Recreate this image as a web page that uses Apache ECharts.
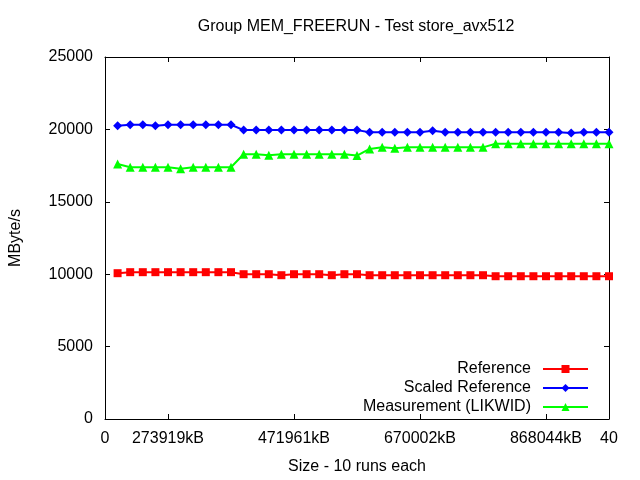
<!DOCTYPE html>
<html>
<head>
<meta charset="utf-8">
<script src="https://cdn.jsdelivr.net/npm/echarts@6/dist/echarts.min.js"></script>
<style>html,body{margin:0;padding:0;background:#fff}#c{width:640px;height:480px}</style>
</head>
<body>
<div id="c"></div>
<script>
const xIndex = [1,2,3,4,5,6,7,8,9,10,11,12,13,14,15,16,17,18,19,20,21,22,23,24,25,26,27,28,29,30,31,32,33,34,35,36,37,38,39,40];
const xTickPositions = [0, 5, 15, 25, 35, 40];
const xTickLabels = ['0', '273919kB', '471961kB', '670002kB', '868044kB', '40'];
const xTickMarks = [5, 15, 25, 35];
const reference = [10070,10140,10140,10140,10140,10140,10140,10140,10140,10140,10000,10000,10000,9930,10000,10000,10000,9930,10000,10000,9930,9930,9930,9930,9930,9930,9930,9930,9930,9930,9860,9860,9860,9860,9860,9860,9860,9860,9860,9860];
const scaledReference = [20250,20320,20320,20250,20320,20320,20320,20320,20320,20320,19950,19950,19950,19950,19950,19950,19950,19950,19950,19950,19810,19810,19810,19810,19810,19900,19810,19810,19810,19810,19810,19810,19810,19810,19810,19810,19745,19810,19810,19810];
const measurement = [17610,17385,17385,17385,17385,17290,17385,17385,17385,17385,18280,18280,18210,18280,18280,18280,18280,18280,18280,18190,18650,18760,18690,18760,18760,18760,18760,18760,18760,18760,19010,19010,19010,19010,19010,19010,19010,19010,19010,19010];
const seriesNames = ['Reference', 'Scaled Reference', 'Measurement (LIKWID)'];

const FONT = "'Liberation Sans', Arial, sans-serif";
const chart = echarts.init(document.getElementById('c'), null, {renderer: 'canvas'});
const pair = (vals) => xIndex.map((x, i) => [x, vals[i]]);
const axisLine = {show: true, onZero: false, lineStyle: {color: '#000', width: 1}};
const tick = {show: true, inside: true, length: 5, lineStyle: {color: '#000', width: 1}};

chart.setOption({
  animation: false,
  backgroundColor: '#fff',
  textStyle: {fontFamily: FONT},
  title: {
    text: 'Group MEM_FREERUN - Test store_avx512',
    left: 356, top: 19, padding: 0, textAlign: 'center',
    textStyle: {fontFamily: FONT, fontSize: 16, fontWeight: 'normal', color: '#000'}
  },
  grid: {left: 104, right: 31, top: 57, bottom: 61, containLabel: false},
  legend: {
    orient: 'vertical', align: 'right', right: 51, top: 361, padding: 0,
    itemWidth: 45, itemHeight: 10, itemGap: 3,
    textStyle: {fontFamily: FONT, fontSize: 16, color: '#000', lineHeight: 16, padding: [0, 7, 0, 0]},
    data: seriesNames
  },
  xAxis: [{
    type: 'value', min: 0, max: 40, position: 'bottom',
    name: 'Size - 10 runs each', nameLocation: 'middle', nameGap: 40,
    nameTextStyle: {fontFamily: FONT, fontSize: 16, color: '#000'},
    axisLine: axisLine,
    axisTick: Object.assign({}, tick, {customValues: xTickMarks}),
    axisLabel: {
      customValues: xTickPositions, showMinLabel: true, showMaxLabel: true,
      margin: 12, fontFamily: FONT, fontSize: 16, color: '#000',
      formatter: (v) => { const i = xTickPositions.indexOf(v); return i >= 0 ? xTickLabels[i] : ''; }
    },
    splitLine: {show: false}
  }, {
    type: 'value', min: 0, max: 40, position: 'top',
    axisLine: axisLine,
    axisTick: Object.assign({}, tick, {customValues: xTickMarks}),
    axisLabel: {show: false}, splitLine: {show: false}
  }],
  yAxis: [{
    type: 'value', min: 0, max: 25000, interval: 5000, position: 'left',
    name: 'MByte/s', nameLocation: 'middle', nameGap: 81, nameRotate: 90,
    nameTextStyle: {fontFamily: FONT, fontSize: 16, color: '#000'},
    axisLine: axisLine, axisTick: tick,
    axisLabel: {margin: 12, fontFamily: FONT, fontSize: 16, color: '#000', formatter: (v) => String(v)},
    splitLine: {show: false}
  }, {
    type: 'value', min: 0, max: 25000, interval: 5000, position: 'right',
    axisLine: axisLine, axisTick: tick,
    axisLabel: {show: false}, splitLine: {show: false}
  }],
  series: [{
    name: seriesNames[0], type: 'line', data: pair(reference),
    symbol: 'rect', symbolSize: 8, showAllSymbol: true,
    lineStyle: {color: '#ff0000', width: 2}, itemStyle: {color: '#ff0000'}
  }, {
    name: seriesNames[1], type: 'line', data: pair(scaledReference),
    symbol: 'diamond', symbolSize: 9, showAllSymbol: true,
    lineStyle: {color: '#0000ff', width: 2}, itemStyle: {color: '#0000ff'}
  }, {
    name: seriesNames[2], type: 'line', data: pair(measurement),
    symbol: 'triangle', symbolSize: 9, showAllSymbol: true,
    lineStyle: {color: '#00ff00', width: 2}, itemStyle: {color: '#00ff00'}
  }]
});
</script>
</body>
</html>
